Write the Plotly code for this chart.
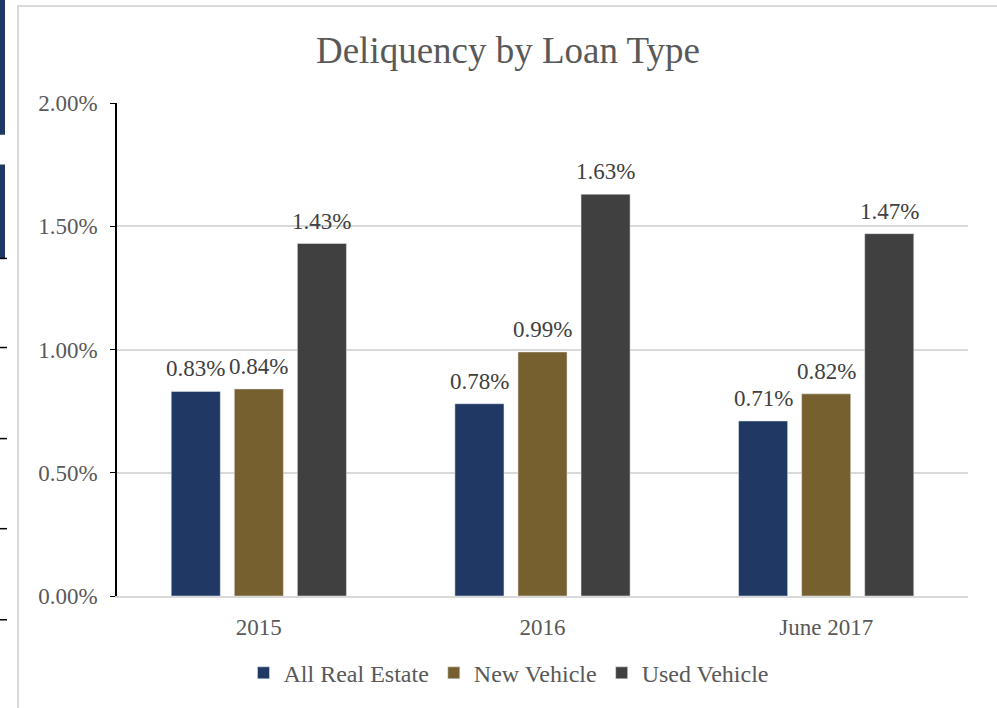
import plotly.graph_objects as go

categories = ["2015", "2016", "June 2017"]
series_names = ["All Real Estate", "New Vehicle", "Used Vehicle"]
all_real_estate = [0.0083, 0.0078, 0.0071]
new_vehicle = [0.0084, 0.0099, 0.0082]
used_vehicle = [0.0143, 0.0163, 0.0147]
y_ticks = [0, 0.005, 0.01, 0.015, 0.02]
colors = ["#203864", "#77602F", "#404040"]

W, H = 997, 708
L, R, T, B = 117, 29, 103, 107
pw, ph = W - L - R, H - T - B
BARGAP, GROUPGAP = 0.333, 0.222

def px_x(p):
    return (p - L) / pw

def px_y(p):
    return (H - B - p) / ph

FONT = "Liberation Serif"
all_series = [all_real_estate, new_vehicle, used_vehicle]

fig = go.Figure()
for name, vals, col in zip(series_names, all_series, colors):
    fig.add_trace(go.Bar(
        x=categories, y=vals, name=name, marker_color=col,
        cliponaxis=False, hoverinfo="x+y",
    ))

# data labels as annotations (offset within group derived from bar layout);
# category positions given by index so numeric-looking names are not misread
n_series = len(all_series)
group_width = 1 - BARGAP
annotations = []
for i, vals in enumerate(all_series):
    off = (i - (n_series - 1) / 2) * group_width / n_series
    for j, v in enumerate(vals):
        annotations.append(dict(
            x=j + off, y=v, xref="x", yref="y", text=f"{v*100:.2f}%", showarrow=False,
            yanchor="bottom", yshift=8,
            font=dict(family=FONT, size=23, color="#404040"),
        ))

shapes = [
    # chart frame
    dict(type="rect", xref="paper", yref="paper", x0=px_x(18), x1=px_x(1005),
         y0=px_y(720), y1=px_y(5), line=dict(color="#D9D9D9", width=2), layer="below"),
    # left-edge slide fragments
    dict(type="rect", xref="paper", yref="paper", x0=px_x(-5), x1=px_x(5),
         y0=px_y(135), y1=px_y(-5), fillcolor="#1F3864", line=dict(width=0)),
    dict(type="rect", xref="paper", yref="paper", x0=px_x(-5), x1=px_x(5),
         y0=px_y(260), y1=px_y(165), fillcolor="#1F3864", line=dict(width=0)),
]
for yy in [260, 350, 442, 533, 625]:
    shapes.append(dict(type="line", xref="paper", yref="paper", x0=px_x(0), x1=px_x(7),
                       y0=px_y(yy), y1=px_y(yy), line=dict(color="#000000", width=1.5)))

fig.update_layout(
    width=W, height=H,
    margin=dict(l=L, r=R, t=T, b=B),
    paper_bgcolor="white", plot_bgcolor="white",
    title=dict(text="Deliquency by Loan Type", xref="container", x=508 / W, xanchor="center",
               yref="container", y=1 - 50 / H, yanchor="middle",
               font=dict(family=FONT, size=37, color="#595959")),
    barmode="group", bargap=BARGAP, bargroupgap=GROUPGAP,
    font=dict(family=FONT, color="#595959"),
    legend=dict(orientation="h", x=px_x(509), xanchor="center", y=px_y(679), yanchor="middle",
                font=dict(family=FONT, size=24, color="#595959"),
                itemwidth=30, traceorder="normal"),
    shapes=shapes,
    annotations=annotations,
    xaxis=dict(type="category", range=[-0.5, len(categories) - 0.5],
               showgrid=False, showline=True, linecolor="#D9D9D9", linewidth=1.5,
               tickfont=dict(family=FONT, size=23, color="#595959"),
               ticks="", ticklen=0, ticklabelstandoff=10),
    yaxis=dict(range=[0, 0.02], tickvals=y_ticks, tickformat=".2%",
               showgrid=True, gridcolor="#D9D9D9", gridwidth=1.5,
               showline=True, linecolor="#000000", linewidth=1.5,
               ticks="outside", ticklen=5, tickcolor="#000000",
               tickfont=dict(family=FONT, size=23, color="#595959"),
               ticklabelstandoff=8, zeroline=False),
)

fig.write_html("out.html", config={"displayModeBar": False},
               post_script="document.body.style.margin='0';")
